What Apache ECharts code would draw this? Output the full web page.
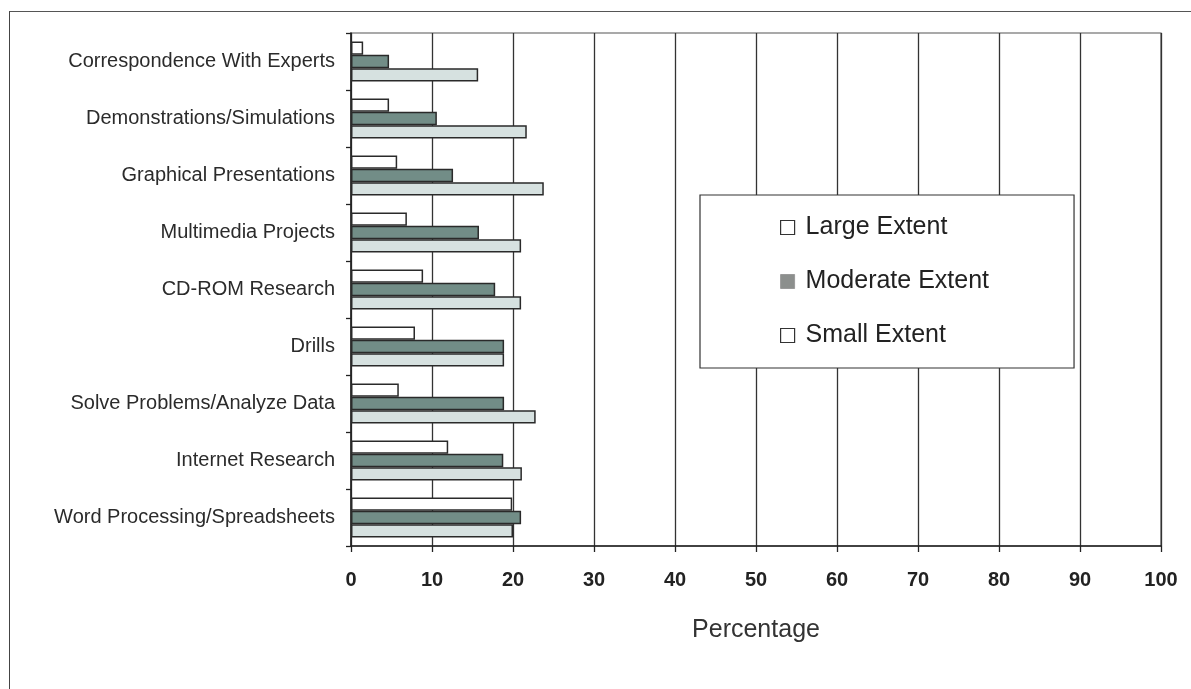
<!DOCTYPE html>
<html>
<head>
<meta charset="utf-8">
<title>Extent of Technology Use</title>
<script src="https://cdn.jsdelivr.net/npm/echarts@6/dist/echarts.min.js"></script>
<style>
  html, body { margin: 0; padding: 0; background: #ffffff; }
  #frame {
    position: absolute; left: 9px; top: 11px; right: 0; bottom: 0;
    border-left: 1.5px solid #444; border-top: 1.5px solid #555;
  }
  #chart { position: absolute; left: 0; top: 0; width: 1191px; height: 689px; }
</style>
</head>
<body>
<div id="frame"></div>
<div id="chart"></div>
<script>
// Activities, listed top to bottom
const categories = [
  'Correspondence With Experts',
  'Demonstrations/Simulations',
  'Graphical Presentations',
  'Multimedia Projects',
  'CD-ROM Research',
  'Drills',
  'Solve Problems/Analyze Data',
  'Internet Research',
  'Word Processing/Spreadsheets'
];

// Percent of respondents per extent of use
const largeExtent    = [1.5, 4.7, 5.7, 6.9, 8.9, 7.9, 5.9, 12.0, 19.9];
const moderateExtent = [4.7, 10.6, 12.6, 15.8, 17.8, 18.9, 18.9, 18.8, 21.0];
const smallExtent    = [15.7, 21.7, 23.8, 21.0, 21.0, 18.9, 22.8, 21.1, 20.0];

const seriesNames = ['Large Extent', 'Moderate Extent', 'Small Extent'];
const xTicks = [0, 10, 20, 30, 40, 50, 60, 70, 80, 90, 100];

const chart = echarts.init(document.getElementById('chart'), null, { renderer: 'canvas' });

const barBorder = { borderColor: '#2a2a2a', borderWidth: 1.5 };

chart.setOption({
  animation: false,
  backgroundColor: 'transparent',
  textStyle: { fontFamily: 'Liberation Sans, Arial, sans-serif' },
  grid: {
    left: 351, right: 30, top: 33, bottom: 143,
    show: true, borderColor: '#555', borderWidth: 1.2, backgroundColor: 'transparent'
  },
  legend: {
    orient: 'vertical',
    left: 700, top: 195,
    padding: [20, 85, 20, 80],
    backgroundColor: '#ffffff',
    borderColor: '#333', borderWidth: 1.2,
    itemWidth: 14, itemHeight: 14, itemGap: 29,
    icon: 'rect',
    textStyle: { fontSize: 25, color: '#222', padding: [0, 0, 0, 6],
                 fontFamily: 'Liberation Sans, Arial, sans-serif' },
    data: [
      { name: seriesNames[0], itemStyle: { color: '#ffffff', borderColor: '#333', borderWidth: 1.2 } },
      { name: seriesNames[1], itemStyle: { color: '#8c8f8d', borderColor: '#9a9a9a', borderWidth: 1 } },
      { name: seriesNames[2], itemStyle: { color: '#ffffff', borderColor: '#333', borderWidth: 1.2 } }
    ]
  },
  xAxis: {
    type: 'value',
    min: 0, max: 100, interval: 10,
    name: 'Percentage',
    nameLocation: 'middle',
    nameGap: 72,
    nameTextStyle: { fontSize: 25, color: '#333' },
    axisLine: { show: true, lineStyle: { color: '#222', width: 1.5 } },
    axisTick: { show: true, length: 6, lineStyle: { color: '#222', width: 1.3 } },
    axisLabel: {
      margin: 24, fontSize: 20, fontWeight: 'bold', color: '#222',
      formatter: v => (xTicks.includes(v) ? String(v) : '')
    },
    splitLine: { show: true, lineStyle: { color: '#333', width: 1.3 } }
  },
  yAxis: {
    type: 'category',
    data: categories,
    inverse: true,
    axisLine: { show: true, lineStyle: { color: '#222', width: 1.5 } },
    axisTick: { show: true, length: 5, lineStyle: { color: '#222', width: 1.3 } },
    axisLabel: { margin: 16, fontSize: 20, color: '#2b2b2b' },
    splitLine: { show: false }
  },
  series: [
    {
      name: seriesNames[0], type: 'bar', data: largeExtent,
      barGap: '0%', barCategoryGap: '30%',
      itemStyle: Object.assign({ color: '#ffffff' }, barBorder)
    },
    {
      name: seriesNames[1], type: 'bar', data: moderateExtent,
      barGap: '0%', barCategoryGap: '30%',
      itemStyle: Object.assign({ color: '#728d87' }, barBorder)
    },
    {
      name: seriesNames[2], type: 'bar', data: smallExtent,
      barGap: '0%', barCategoryGap: '30%',
      itemStyle: Object.assign({ color: '#d6e1e0' }, barBorder)
    }
  ]
});
</script>
</body>
</html>
